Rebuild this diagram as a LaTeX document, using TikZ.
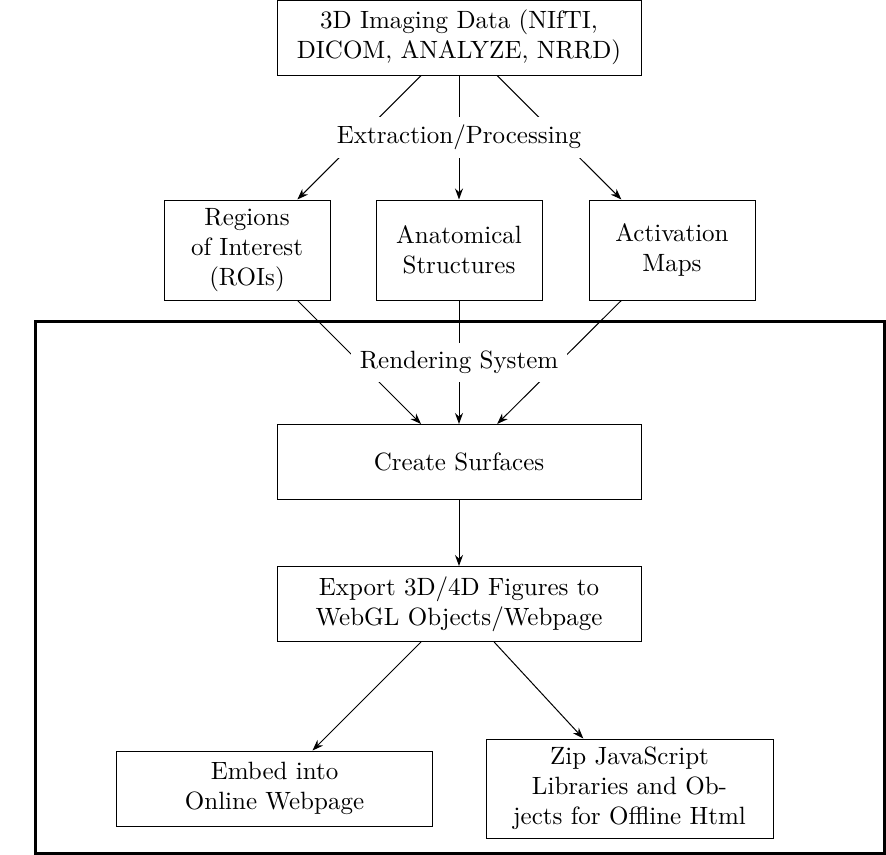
\documentclass[tikz,border=0pt]{standalone}
\usetikzlibrary{arrows.meta}
\begin{document}
\begin{tikzpicture}[x=0.4pt,y=-0.4pt,
  box/.style={draw, align=center, inner sep=2pt, line width=0.4pt},
  wide/.style={box, minimum width=145.6pt, minimum height=30pt},
  small/.style={box, minimum width=66.4pt, minimum height=40pt},
  lab/.style={fill=white, inner sep=3.33pt},
  arr/.style={-{Stealth[length=4.4pt,width=3.2pt]}, line width=0.4pt},
  frame/.style={line width=1.2pt}]
\useasboundingbox (0,0) rectangle (886,854);
\node[wide] (top) at (459,37.5) {3D Imaging Data (NIfTI,\\DICOM, ANALYZE, NRRD)};
\node[small] (roi) at (247,250) {Regions\\of Interest\\(ROIs)};
\node[small] (anat) at (459,250) {Anatomical\\Structures};
\node[small] (act) at (672,250) {Activation\\Maps};
\draw[frame] (35,321) rectangle (884,853);
\node[wide] (create) at (459,462) {Create Surfaces};
\node[wide] (export) at (459,604) {Export 3D/4D Figures to\\WebGL Objects/Webpage};
\node[box, minimum width=126pt, minimum height=30pt] (embed) at (274.5,788.5) {Embed into\\Online Webpage};
\node[box, minimum width=114.8pt, minimum height=39.6pt] (zip) at (629.5,788.5) {Zip JavaScript\\Libraries and Ob-\\jects for Offline Html};
\draw[arr] (top) -- (roi);
\draw[arr] (top) -- (act);
\draw[arr] (top) -- (anat) node[midway, lab] (ep) {Extraction/Processing};
\draw[arr] (roi) -- (create);
\draw[arr] (act) -- (create);
\draw[arr] (anat) -- (create) node[midway, lab] (rs) {Rendering System};
\draw[arr] (create) -- (export);
\draw[arr] (export) -- (embed);
\draw[arr] (export) -- (zip);
\end{tikzpicture}
\end{document}
